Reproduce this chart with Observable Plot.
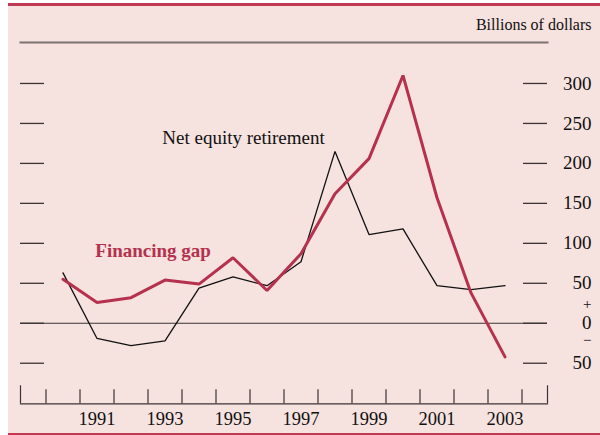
<!DOCTYPE html>
<html>
<head>
<meta charset="utf-8">
<script src="https://cdn.jsdelivr.net/npm/d3@7"></script>
<script src="https://cdn.jsdelivr.net/npm/@observablehq/plot@0.6"></script>
<style>
  html, body { margin: 0; padding: 0; background: #ffffff; width: 600px; height: 435px; overflow: hidden; }
  #panel { position: absolute; left: 8px; top: 3px; width: 592px; height: 427px;
           background: #f6e2df; border-top: 3px solid #bf3a52; border-bottom: 2px solid #bf3a52; }
  #chart { position: absolute; left: 0; top: 0; }
  #chart svg { font-family: "Liberation Serif", "DejaVu Serif", serif; }
</style>
</head>
<body>
<div id="panel"></div>
<div id="chart"></div>
<script>
// ---- data ----
const years = [1990, 1991, 1992, 1993, 1994, 1995, 1996, 1997, 1998, 1999, 2000, 2001, 2002, 2003];
const financingGap = [55, 26, 32, 54, 49, 82, 41, 87, 162, 206, 310, 157, 38, -42];
const netEquityRetirement = [63, -19, -28, -22, 44, 58, 47, 77, 215, 111, 118, 47, 42, 47];
const yTickValues = [-50, 0, 50, 100, 150, 200, 250, 300];
const yTickLabels = ["50", "0", "50", "100", "150", "200", "250", "300"];
const yearBoundaries = [1990, 1991, 1992, 1993, 1994, 1995, 1996, 1997, 1998, 1999, 2000, 2001, 2002, 2003, 2004];
const axisEnds = [1989.25, 2004.75];
const labelYears = [1991, 1993, 1995, 1997, 1999, 2001, 2003];
const nerLabel = {text: "Net equity retirement", year: 1993.42, value: 232};
const gapLabel = {text: "Financing gap", year: 1991.45, value: 90};

const data = years.map((y, i) => ({year: y, gap: financingGap[i], ner: netEquityRetirement[i]}));
const ticks = yTickValues.map((v, i) => ({v, label: yTickLabels[i]}));

const RED = "#b5314d";
const AXIS = "#3a3434";
const frameW = 527; // 547 - 20
const frameH = 435 - 42 - 31.7;

const chart = Plot.plot({
  width: 600,
  height: 435,
  marginLeft: 20,
  marginRight: 53,
  marginTop: 42,
  marginBottom: 31.7,
  style: {background: "transparent", fontFamily: "Liberation Serif, serif"},
  x: {type: "linear", domain: axisEnds, axis: null},
  y: {type: "linear", domain: [-100.75, 351.25], axis: null},
  marks: [
    // top rule under "Billions of dollars"
    Plot.frame({anchor: "top", stroke: "#7d7272", strokeWidth: 2}),
    // bottom axis line
    Plot.frame({anchor: "bottom", stroke: AXIS, strokeWidth: 1.2}),
    // year boundary ticks
    Plot.tickX(yearBoundaries, {x: d => d, stroke: AXIS, strokeWidth: 1.2, insetTop: frameH - 14}),
    Plot.tickX(axisEnds, {x: d => d, stroke: AXIS, strokeWidth: 1.2, insetTop: frameH - 18}),
    // year labels, centered in each year span
    Plot.text(labelYears, {x: d => d + 0.5, text: d => String(d), frameAnchor: "bottom", dy: 15,
      fontSize: 18.5, fill: "#111", lineAnchor: "middle"}),
    // zero line
    Plot.ruleY([0], {stroke: AXIS, strokeWidth: 1.2}),
    // left and right short tick marks
    Plot.ruleY(yTickValues, {y: d => d, stroke: AXIS, strokeWidth: 1.3, insetRight: frameW - 24}),
    Plot.ruleY(yTickValues, {y: d => d, stroke: AXIS, strokeWidth: 1.3, insetLeft: frameW - 24}),
    // right tick labels
    Plot.text(ticks, {y: "v", text: "label", frameAnchor: "right", dx: 44, textAnchor: "end",
      fontSize: 19, fill: "#111", lineAnchor: "middle"}),
    // plus / minus signs around zero
    Plot.text(["+"], {y: 0, text: d => d, frameAnchor: "right", dx: 44, dy: -19, textAnchor: "end",
      fontSize: 15, fill: "#111", lineAnchor: "middle"}),
    Plot.text(["\u2212"], {y: 0, text: d => d, frameAnchor: "right", dx: 44, dy: 17, textAnchor: "end",
      fontSize: 15, fill: "#111", lineAnchor: "middle"}),
    // series
    Plot.line(data, {x: d => d.year + 0.5, y: "ner", stroke: "#111111", strokeWidth: 1.3, strokeLinejoin: "miter"}),
    Plot.line(data, {x: d => d.year + 0.5, y: "gap", stroke: RED, strokeWidth: 3, strokeLinejoin: "miter"}),
    // series labels
    Plot.text([nerLabel], {x: "year", y: "value", text: "text", fill: "#111111",
      textAnchor: "start", fontSize: 19, lineAnchor: "middle"}),
    Plot.text([gapLabel], {x: "year", y: "value", text: "text", fill: RED, fontWeight: "bold",
      textAnchor: "start", fontSize: 19, lineAnchor: "middle"}),
    // unit label
    Plot.text(["Billions of dollars"], {frameAnchor: "top-right", text: d => d, dx: 44, dy: -18,
      textAnchor: "end", fontSize: 16, fill: "#111", lineAnchor: "middle"})
  ]
});
document.getElementById("chart").appendChild(chart);
</script>
</body>
</html>
